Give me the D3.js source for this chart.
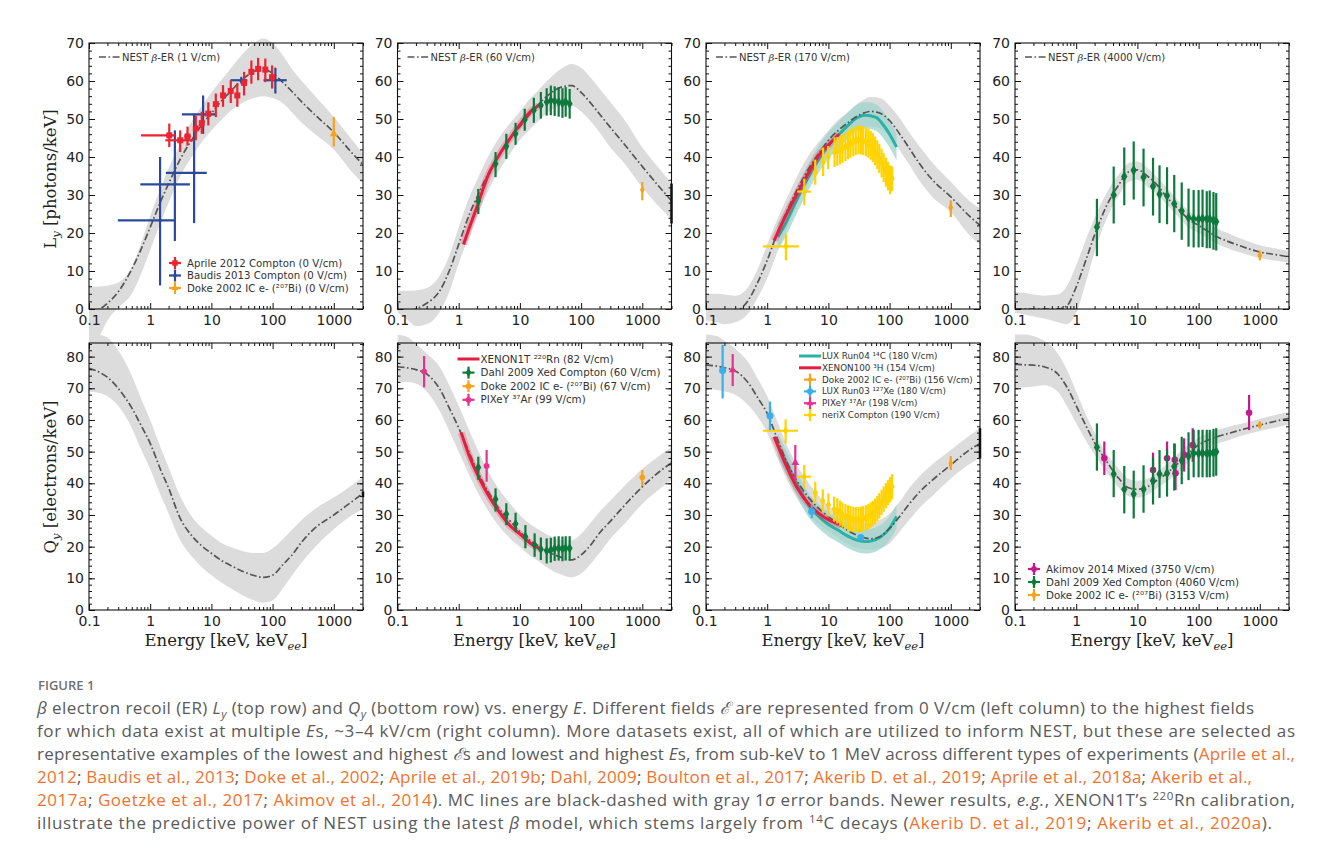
<!DOCTYPE html>
<html>
<head>
<meta charset="utf-8">
<script src="https://cdn.jsdelivr.net/npm/d3@7"></script>
<style>
  body { margin: 0; background: #fff; }
</style>
</head>
<body>
<svg id="fig" width="1328" height="858"></svg>
<script>
// NEST curves are tabulated on one energy grid (keV)
const energyGrid = [0.1, 0.15, 0.2, 0.3, 0.5, 0.7, 1, 1.5, 2, 3, 5, 7, 10, 15, 20, 30, 50, 70, 100, 150, 200, 300, 500, 1000, 2000, 3000];

// Ly [photons/keV], top row: NEST mean and 1 sigma band
const nestLy1   = [-1, 0, 1.5, 4.5, 10.5, 15.5, 21.5, 28.5, 33, 39, 45, 48.5, 51.5, 55, 57, 60, 62.5, 63.2, 62, 59.5, 57.5, 54.5, 51, 46.5, 41, 38];
const nestLy1Lo = [-11, -7, -3, 0.3, 4, 9, 15.5, 23, 28, 34.5, 40.5, 44, 47, 50, 52, 54, 55.5, 56, 55.5, 54, 52, 49, 46, 42, 36, 33];
const nestLy1Hi = [5.8, 5.9, 6.2, 7, 11, 17, 24.5, 32, 37, 43, 50, 53.5, 57, 60.5, 63, 66.5, 70, 71.2, 70, 66.5, 63.5, 60, 56, 50.5, 44.5, 41];

const nestLy60   = [-2, -1, 0, 1.5, 5, 10, 17, 25, 29.5, 35.5, 41.5, 45, 48, 51.5, 53.8, 56.5, 58.5, 58.8, 57, 53.8, 51.3, 47.8, 43.5, 37.5, 31.7, 28.5];
const nestLy60Lo = [-1, -3, -4.5, -4, -0.5, 4.5, 12, 19.5, 24.5, 31, 37.5, 41, 44.5, 47.5, 49.5, 52, 53.5, 53.5, 52, 49, 46.5, 42.5, 38.5, 32, 26.5, 23.5];
const nestLy60Hi = [4.8, 4.8, 4.9, 5.5, 9, 14, 21.5, 29.5, 34, 40, 46, 49, 52, 55.5, 57.5, 60.5, 63.5, 64.5, 63.5, 60.5, 58, 54.5, 50, 42.5, 36.5, 33];

const nestLy170   = [-3, -2.5, -2, -1, 2.5, 7, 12.8, 20.5, 25, 31, 37.5, 41, 44.4, 47.2, 48.8, 50.8, 52, 51.5, 49.6, 45.8, 42.8, 38.5, 34, 29.5, 24.5, 22];
const nestLy170Lo = [-3, -3.5, -4, -3.5, -1, 3, 8, 15.5, 20.5, 27, 34, 37.5, 41, 43.5, 45.5, 47.5, 48, 47.5, 45.5, 41.5, 38.5, 34, 29.5, 25.5, 19.5, 17];
const nestLy170Hi = [4, 4, 3.8, 3.5, 6, 10.5, 17, 24, 28.5, 34.5, 41, 44, 47, 50, 51.5, 54, 55.8, 55.5, 53.5, 50, 47, 43, 38.5, 33.5, 28.5, 26.5];

const nestLy4000   = [0, 0, 0, 0, 0, 0.8, 5.8, 13.7, 19.5, 26.5, 32.8, 36, 36.6, 34.8, 33, 29.5, 25.8, 23.5, 22, 20.2, 19, 17.8, 16.5, 15, 14.2, 13.7];
const nestLy4000Lo = [-1, -1.5, -2, -2.5, -3.5, -4, -1, 8, 15, 23, 30, 33.3, 34, 32, 30.5, 27.5, 23.7, 21.3, 20, 18.3, 17.2, 16, 14.8, 13.4, 12.6, 12.2];
const nestLy4000Hi = [4.5, 4.2, 3.8, 3.5, 3.8, 6, 11.5, 19, 24, 30, 35.5, 38.3, 38.8, 37, 35, 32, 28, 25.8, 24, 22.3, 21.2, 20, 18.5, 16.8, 15.8, 15.3];

// Qy [electrons/keV], bottom row
const nestQy0   = [76.3, 75, 73.5, 70, 63.8, 58.5, 52.6, 44, 38.5, 29.5, 23, 20.2, 17.9, 15.5, 14.2, 12.5, 10.9, 10.3, 11, 14.5, 17, 21.5, 26, 30, 34.3, 36.8];
const nestQy0Lo = [69, 68.5, 67.5, 64.5, 57.5, 51, 44.5, 36, 30.5, 22.5, 16.5, 13.5, 11, 8.5, 7, 5, 3, 2.3, 3, 7, 10.5, 15, 20, 25.5, 30, 32];
const nestQy0Hi = [88, 87, 86, 82, 74, 67, 60, 51, 45, 36.5, 29, 26, 23.5, 21, 20, 18.8, 18, 18, 19.5, 22.5, 25, 28.5, 32, 35.5, 39.5, 42];

const nestQy60   = [76.8, 76.4, 75.9, 74.5, 69.5, 63.8, 57.5, 49.5, 44, 37.5, 31, 28, 24.7, 21.8, 20.2, 18.2, 16.5, 15.8, 17.4, 21, 24.3, 28, 32.8, 38.9, 44, 46.5];
const nestQy60Lo = [72, 72, 71.5, 69, 62.5, 56.5, 50, 42.5, 37.5, 31.5, 25.5, 22.5, 20, 17, 15.5, 13, 11, 10.3, 11.5, 15, 18, 22.5, 27, 33.5, 38.5, 41];
const nestQy60Hi = [87, 86, 84, 81, 76.5, 71, 64.5, 56.5, 51, 44, 37, 33.5, 30, 27, 25.5, 23.5, 22, 22, 24, 28, 31, 34.5, 39, 44.5, 49, 51.5];

const nestQy180   = [77.4, 77, 76.5, 75.5, 71.5, 67, 62.1, 53.5, 47.5, 41.1, 35, 32, 29.5, 27, 25.3, 23.5, 22.5, 23.2, 25.8, 29.8, 33, 37, 41, 45.8, 50.5, 52.6];
const nestQy180Lo = [70, 69.5, 69, 68, 64.5, 61, 56, 47.5, 42, 35.5, 29.5, 27, 25, 22.5, 21, 19.5, 19, 19.5, 21, 25, 28, 32, 36, 41.5, 46, 48];
const nestQy180Hi = [87, 86.5, 85, 82.5, 78, 73, 67.5, 59, 53, 46, 39.5, 36, 33, 30.5, 29, 28, 27.5, 28.5, 30.5, 34.5, 38, 42, 46, 50.5, 55, 57.5];

const nestQy4000   = [77.6, 77.4, 77.3, 76.8, 74.5, 70.5, 64.5, 57.5, 52.8, 47.5, 41.5, 38.7, 38.1, 39, 40.7, 43.1, 47, 49.7, 52.1, 53.8, 54.7, 55.7, 56.9, 58.4, 59.8, 60.5];
const nestQy4000Lo = [70, 70.3, 70.6, 71, 69, 64.5, 59, 53, 49, 44, 38.5, 36, 35.5, 36.5, 38.2, 40.5, 44, 47, 49.8, 51.5, 52.5, 53.5, 55, 56.5, 57.8, 58.5];
const nestQy4000Hi = [87, 87, 86.5, 85, 81, 76, 69, 61, 56, 50, 44.5, 41.5, 40.8, 41.5, 43.2, 46, 50, 52.5, 54.5, 56, 56.8, 57.8, 58.8, 60.3, 61.8, 62.5];

// measurements: [E, value, low, high, (E low, E high)]
const aprile2012 = [
  [2.05, 45.7, 42.6, 48.8, 0.71, 2.6], [3.09, 44.4, 41.3, 47.0, 1.77, 5.2], [4.07, 45.4, 43.0, 48.0, 3.6, 4.6],
  [5.56, 47.5, 44.4, 50.9, 5.0, 6.2], [6.95, 48.9, 46.1, 51.9, 6.3, 7.6], [8.9, 51.4, 48.3, 54.4, 8.1, 9.8],
  [11.8, 53.9, 50.5, 56.7, 10.8, 12.9], [15.5, 56.2, 53.2, 58.9, 14.2, 17], [20.7, 57.4, 54.2, 60.2, 19, 22.5],
  [26.5, 56.2, 53.2, 59.3, 24.5, 28.7], [34.2, 59.5, 56.2, 62.4, 31.5, 37], [45, 62.4, 59.3, 65.4, 41.5, 48.7],
  [58, 63.2, 60.2, 66.1, 53.5, 62.8], [76, 63.0, 59.7, 65.9, 70, 82], [98, 61.0, 58.0, 64.1, 90, 106]
];
const baudis2013 = [
  [1.45, 23.3, 6.2, 40, 0.296, 2.58], [2.53, 32.8, 17.9, 47, 0.69, 4.45], [5.22, 35.8, 22.6, 51.4, 1.8, 8.4],
  [7.32, 51.2, 46.1, 56.2, 3.3, 11.7], [30.8, 60.2, 59.3, 61.1, 20.5, 38.6], [111, 60.2, 56.7, 63.5, 71, 170]
];
const dokeLy0 = [[1000, 46.1, 42.8, 50.5]];

const xenon1tLyE = [1.2, 1.5, 2, 3, 5, 7, 10, 15, 20];
const xenon1tLy  = [17, 21.5, 27, 35, 41.5, 45, 48.5, 52, 53.5];
const dahlLy60 = [
  [2.09, 28.4, 25, 31.6], [4.0, 38.2, 34.7, 41.3], [6.0, 42.8, 39.5, 46.1], [8.5, 46.1, 43.2, 49.0],
  [12, 49.8, 46.9, 52.7], [16.9, 52.3, 49.0, 55.6], [22, 53.6, 50.1, 57.1], [27.4, 54.5, 50.9, 58.1],
  [32, 54.9, 51.0, 58.8], [37, 54.7, 50.8, 58.6], [43, 54.5, 50.6, 58.4], [49.6, 54.2, 50.3, 58.1],
  [56, 54.5, 50.6, 58.4], [65, 54, 50.1, 57.9]
];
const dokeLy60 = [[1000, 31.4, 28.6, 33.4]];
const edgeLy60 = [[3000, 27.5, 22.5, 33]];

const xenon100LyE = [1.3, 2, 3, 5, 7, 10, 15];
const xenon100Ly  = [18, 24.5, 30, 36.5, 40.5, 43.2, 46];
const lux04LyE = [1.5, 2, 3, 5, 7, 10, 15, 20, 30, 40, 60, 80, 100, 130];
const lux04Ly  = [19, 22.5, 28.5, 35.5, 39.5, 43, 46, 48, 50.4, 51, 50.4, 48.3, 46, 42.6];
const lux04LyErr = 3.5;
const nerixLy = [
  [2.02, 16.5, 12.8, 19.8, 0.85, 3.3], [4.04, 30.9, 27.3, 34.3, 3.1, 5.2], [6.1, 36, 32.7, 39.3, 5.6, 6.6],
  [8.2, 38.7, 35, 42.5, 7.6, 8.8], [9.9, 40, 36.8, 42.9, 9.3, 10.5], [12.6, 41.3, 37.4, 45.2, 11.8, 13.4],
  [14, 41.5, 37.7, 45.3], [15.5, 41.8, 38, 45.6], [17, 42.2, 38.4, 46], [19, 42.7, 38.9, 46.5],
  [21, 43.2, 39.4, 47], [23, 43.6, 39.8, 47.4], [25.5, 44, 40.2, 47.8], [28, 44.3, 40.5, 48.1],
  [31, 44.5, 40.7, 48.3], [34, 44.5, 40.7, 48.3], [37, 44.3, 40.5, 48.1], [41, 44, 40.2, 47.8],
  [45, 43.6, 39.8, 47.4], [49, 43.1, 39.3, 46.9], [53, 42.5, 38.7, 46.3], [58, 41.6, 37.8, 45.4],
  [63, 40.6, 36.8, 44.4], [68, 39.6, 35.8, 43.4], [74, 38.4, 34.6, 42.2], [80, 37.2, 33.4, 41],
  [87, 36, 32.2, 39.8], [94, 35, 31.2, 38.8], [102, 34, 30.2, 37.8], [110, 34.3, 31, 37.5]
];
const dokeLy170 = [[1000, 26.7, 24.2, 28.6]];

const dahlLy4000 = [
  [2.18, 21.6, 13.9, 29], [4.1, 30, 22.5, 37.5], [6.1, 34.9, 27.3, 42.5], [8.7, 36.5, 28.8, 44.1],
  [12.6, 34.7, 27, 42.2], [18, 32.3, 24.6, 39.8], [23, 30.2, 22.6, 37.8], [30.5, 29.8, 22.3, 37.3],
  [40, 27.7, 20.2, 35.3], [53, 25.8, 18.2, 33.3], [68.5, 24, 16.4, 31.7], [83, 23.7, 16.2, 31.3],
  [100, 23.7, 16.2, 31.3], [116, 23.8, 16.3, 31.4], [136, 23.7, 16, 31], [152, 23.7, 16, 31.2],
  [175, 23.3, 15.6, 30.8], [194, 23, 15.4, 30.5]
];
const dokeLy4000 = [[1000, 14.1, 12.8, 15.4]];

const edgeQy0 = [[3000, 36.5, 35.6, 37.4]];

const xenon1tQyE = [1.1, 1.5, 2, 3, 5, 7, 10, 15, 22];
const xenon1tQy  = [56, 48.5, 43, 36.5, 30, 26.5, 24, 21, 19.2];
const dahlQy60 = [
  [2.09, 45, 41.1, 48.4], [4.0, 35, 31.1, 38.4], [6.0, 30.3, 26.8, 33.7], [8.5, 27.2, 24.7, 30.7],
  [12.3, 23.2, 19.5, 26.8], [17.4, 20.5, 16.8, 24.2], [22, 19.2, 15.8, 22.9], [27.4, 18.7, 14.7, 22.6],
  [32, 18.9, 15, 22.8], [37, 19.4, 15.5, 23.2], [43, 19.5, 15.6, 23.3], [49.6, 19.3, 15.4, 23.2],
  [56, 19.5, 15.6, 23.3], [65, 19.5, 15.6, 23.3]
];
const pixeyQy99 = [[0.272, 75.3, 70.3, 80.2], [2.86, 45.5, 40.5, 50.5]];
const dokeQy67 = [[1000, 41.9, 39.2, 44.2]];

const xenon100QyE = [1.3, 2, 3, 5, 7, 10, 16];
const xenon100Qy  = [54.7, 46, 39, 33, 30.5, 28.5, 26.8];
const lux04QyE = [1.5, 2, 3, 5, 7, 10, 15, 20, 30, 40, 50, 70, 100, 130];
const lux04Qy  = [52, 47, 40, 32.5, 29.5, 27, 25, 23.5, 22, 21.6, 21.8, 23, 25.8, 29.5];
const lux04QyErr = 3.8;
const lux03Qy = [[0.187, 75.6, 66.8, 83.7], [1.11, 61.3, 56.8, 65.8], [5.34, 31.1, 29, 33.2], [33.8, 22.9, 22.2, 23.6]];
const pixeyQy198 = [[0.273, 75.8, 70.7, 80.8], [2.88, 46.5, 41.1, 52.1]];
const nerixQy = [
  [2.0, 56.6, 52.6, 60.2, 0.85, 3.2], [4.03, 42.1, 38.4, 45.8, 3.1, 5.2], [6.1, 37, 33.7, 40.5, 5.6, 6.6],
  [8.1, 34.5, 30.9, 38.1, 7.5, 8.7], [10, 33.2, 29.5, 36.8, 9.4, 10.6], [12.4, 31.8, 27.9, 35.8, 11.7, 13.2],
  [14, 31.3, 27.3, 35.3], [15.5, 30.6, 26.6, 34.6], [17, 30, 26, 34], [19, 29.5, 25.5, 33.5],
  [21, 29.1, 25.1, 33.1], [23, 28.8, 24.8, 32.8], [25.5, 28.6, 24.6, 32.6], [28, 28.5, 24.5, 32.5],
  [31, 28.5, 24.5, 32.5], [34, 28.6, 24.6, 32.6], [37, 28.8, 24.8, 32.8], [41, 29.1, 25.1, 33.1],
  [45, 29.5, 25.5, 33.5], [49, 30, 26, 34], [53, 30.5, 26.5, 34.5], [58, 31.2, 27.2, 35.2],
  [63, 32, 28, 36], [68, 32.9, 28.9, 36.9], [74, 34, 30, 38], [80, 35, 31, 39],
  [87, 36.1, 32.1, 40.1], [94, 37.1, 33.1, 41.1], [102, 38, 34, 42], [110, 38.9, 34.9, 42.9]
];
const dokeQy156 = [[1000, 46.3, 44.2, 48.6]];
const edgeQy180 = [[3000, 52.6, 47.9, 57.4]];

const akimov2014 = [
  [2.88, 47.9, 42.6, 53.2], [18, 44.2, 38.9, 49.7], [30.5, 47.9, 42.1, 53.2], [40.8, 47.4, 42, 52.5],
  [42, 43.2, 37.9, 47.4], [58, 49, 43.7, 54.2], [80, 52.1, 46.8, 57.4], [668, 62.3, 56.8, 67.9]
];
const dahlQy4060 = [
  [2.18, 51.4, 44, 58.9], [4.1, 42.9, 35.6, 50.5], [6.1, 38.1, 30.5, 45.5], [8.7, 36.6, 28.9, 44],
  [12.6, 38.1, 30.7, 45.7], [18, 40.8, 33.3, 48.2], [23, 42.9, 35.4, 50.5], [30.5, 43.2, 35.8, 50.7],
  [40, 45.3, 37.7, 52.6], [53, 47.2, 39.7, 54.7], [68.5, 48.6, 41, 56.1], [83, 49.5, 41.9, 56.9],
  [100, 49.5, 41.9, 56.9], [116, 49.5, 41.9, 56.9], [136, 49.5, 41.9, 56.9], [152, 49.5, 41.9, 56.9],
  [175, 49.7, 42.1, 57.2], [194, 50, 42.4, 57.4]
];
const dokeQy3153 = [[1000, 58.4, 57.4, 59.5]];

const fieldLabels = ["1 V/cm", "60 V/cm", "170 V/cm", "4000 V/cm"];
const xTickValues = [0.1, 1, 10, 100, 1000];

// caption: plain strings, or [text, style] with i = italic, r = reference, sub/sup
const captionLines = [
  [["β", "i"], " electron recoil (ER) ", ["L", "i"], ["y", "isub"], " (top row) and ", ["Q", "i"], ["y", "isub"], " (bottom row) vs. energy ", ["E", "i"], ". Different fields ", ["ℰ", "i"], " are represented from 0 V/cm (left column) to the highest fields"],
  ["for which data exist at multiple ", ["E", "i"], "s, ~3–4 kV/cm (right column). More datasets exist, all of which are utilized to inform NEST, but these are selected as"],
  ["representative examples of the lowest and highest ", ["ℰ", "i"], "s and lowest and highest ", ["E", "i"], "s, from sub-keV to 1 MeV across different types of experiments (", ["Aprile et al.,", "r"]],
  [["2012", "r"], "; ", ["Baudis et al., 2013", "r"], "; ", ["Doke et al., 2002", "r"], "; ", ["Aprile et al., 2019b", "r"], "; ", ["Dahl, 2009", "r"], "; ", ["Boulton et al., 2017", "r"], "; ", ["Akerib D. et al., 2019", "r"], "; ", ["Aprile et al., 2018a", "r"], "; ", ["Akerib et al.,", "r"]],
  [["2017a", "r"], "; ", ["Goetzke et al., 2017", "r"], "; ", ["Akimov et al., 2014", "r"], "). MC lines are black-dashed with gray 1", ["σ", "i"], " error bands. Newer results, ", ["e.g.", "i"], ", XENON1T’s ", ["220", "sup"], "Rn calibration,"],
  ["illustrate the predictive power of NEST using the latest ", ["β", "i"], " model, which stems largely from ", ["14", "sup"], "C decays (", ["Akerib D. et al., 2019", "r"], "; ", ["Akerib et al., 2020a", "r"], ")."]
];
// right end of each caption line in the figure
const captionLineEnds = [1254, 1295, 1295, 1252, 1295, 1272];

// ---- layout ----
const sans = "DejaVu Sans, sans-serif";
const serif = "DejaVu Serif, serif";
const W = 274;
const colX = [89, 397.5, 706, 1015];
const rowY = [43, 343];
const rowH = [266, 267];

const svg = d3.select("#fig");
const defs = svg.append("defs");
const bandRoot = svg.append("g");
const plotRoot = svg.append("g");
const axisRoot = svg.append("g");

function makePanel(row, col) {
  const x0 = colX[col], y0 = rowY[row], h = rowH[row];
  const x = d3.scaleLog().domain([0.1, 3000]).range([0, W]);
  const y = d3.scaleLinear().domain(row ? [0, 84.3] : [0, 70]).range([h, 0]);
  const id = `clip${row}${col}`;
  defs.append("clipPath").attr("id", id).append("rect").attr("width", W).attr("height", h);
  defs.append("clipPath").attr("id", id + "w").append("rect").attr("y", -50).attr("width", W).attr("height", h + 100);
  const tr = `translate(${x0},${y0})`;
  const band = bandRoot.append("g").attr("transform", tr).append("g").attr("clip-path", `url(#${id}w)`);
  const g = plotRoot.append("g").attr("transform", tr);
  const clipped = g.append("g").attr("clip-path", `url(#${id})`);
  const free = g.append("g");
  return { row, col, x0, y0, h, x, y, band, clipped, free, yMax: row ? 84.3 : 70 };
}

function drawBand(p, lo, hi) {
  const area = d3.area()
    .x((d, i) => p.x(energyGrid[i]))
    .y0(d => p.y(d[0]))
    .y1(d => p.y(d[1]))
    .curve(d3.curveMonotoneX);
  p.band.append("path").datum(lo.map((v, i) => [v, hi[i]]))
    .attr("d", area).attr("fill", "#dcdcdc");
}

function drawNest(p, mid) {
  const line = d3.line()
    .x((d, i) => p.x(energyGrid[i]))
    .y(d => p.y(d))
    .curve(d3.curveMonotoneX);
  p.clipped.append("path").datum(mid)
    .attr("d", line).attr("fill", "none")
    .attr("stroke", "#555").attr("stroke-width", 1.7)
    .attr("stroke-dasharray", "7,2.5,1.6,2.5");
}

function drawCurve(p, es, vs, color, spread, bandColor) {
  const pts = es.map((e, i) => [e, vs[i]]);
  if (spread) {
    const area = d3.area().x(d => p.x(d[0])).y0(d => p.y(d[1] - spread)).y1(d => p.y(d[1] + spread)).curve(d3.curveMonotoneX);
    p.clipped.append("path").datum(pts).attr("d", area).attr("fill", bandColor).attr("opacity", 0.75);
  }
  const line = d3.line().x(d => p.x(d[0])).y(d => p.y(d[1])).curve(d3.curveMonotoneX);
  if (!spread) {
    p.clipped.append("path").datum(pts).attr("d", line).attr("fill", "none")
      .attr("stroke", color).attr("stroke-width", 7).attr("opacity", 0.25);
  }
  p.clipped.append("path").datum(pts).attr("d", line).attr("fill", "none")
    .attr("stroke", color).attr("stroke-width", 3);
}

function errorBars(p, pts, color, shape, size, width) {
  const g = p.free.append("g").attr("stroke", color).attr("stroke-width", width || 2.2);
  g.selectAll("line.v").data(pts).join("line").attr("class", "v")
    .attr("x1", d => p.x(d[0])).attr("x2", d => p.x(d[0]))
    .attr("y1", d => p.y(d[2])).attr("y2", d => p.y(d[3]));
  g.selectAll("line.h").data(pts.filter(d => d.length > 4)).join("line").attr("class", "h")
    .attr("x1", d => p.x(d[4])).attr("x2", d => p.x(d[5]))
    .attr("y1", d => p.y(d[1])).attr("y2", d => p.y(d[1]));
  if (shape) {
    g.selectAll("path").data(pts).join("path")
      .attr("transform", d => `translate(${p.x(d[0])},${p.y(d[1])})`)
      .attr("d", d3.symbol().type(shape).size(size))
      .attr("fill", color).attr("stroke", "none");
  }
}

function legend(p, x, y, dy, fs, entries) {
  const g = p.free.append("g").attr("transform", `translate(${x},${y})`);
  entries.forEach((e, i) => {
    const r = g.append("g").attr("transform", `translate(0,${i * dy})`);
    if (e.kind === "line") {
      r.append("line").attr("x1", -11).attr("x2", 11).attr("stroke", e.color).attr("stroke-width", 3);
    } else {
      r.append("line").attr("x1", -6).attr("x2", 6).attr("stroke", e.color).attr("stroke-width", 2.2);
      r.append("line").attr("y1", -6).attr("y2", 6).attr("stroke", e.color).attr("stroke-width", 2.2);
      r.append("path").attr("d", d3.symbol().type(e.shape).size(e.size || 26)).attr("fill", e.color);
    }
    r.append("text").attr("x", 12).attr("dy", "0.35em")
      .attr("font-family", sans).attr("font-size", fs).attr("fill", "#333").text(e.label);
  });
}

function nestLegend(p, label) {
  const g = p.free.append("g").attr("transform", "translate(10,14)");
  g.append("line").attr("x1", 0).attr("x2", 22).attr("stroke", "#555").attr("stroke-width", 1.7)
    .attr("stroke-dasharray", "7,2.5,1.6,2.5");
  const t = g.append("text").attr("x", 23).attr("dy", "0.35em")
    .attr("font-family", sans).attr("font-size", 10).attr("fill", "#333");
  t.append("tspan").text("NEST ");
  t.append("tspan").attr("font-style", "italic").attr("font-family", serif).text("β");
  t.append("tspan").text(`-ER (${label})`);
}

function drawAxes(p) {
  const a = axisRoot.append("g").attr("transform", `translate(${p.x0},${p.y0})`);
  const minor = p.x.ticks().filter(v => !xTickValues.some(m => Math.abs(m - v) < 1e-9));
  const yMajor = d3.range(0, p.yMax + 0.01, 10);
  const yMinor = d3.range(0, p.yMax, 2);
  a.append("g").attr("transform", `translate(0,${p.h})`)
    .call(d3.axisBottom(p.x).tickValues(xTickValues).tickFormat(d3.format("~g")).tickSize(-6).tickPadding(6));
  a.append("g").attr("transform", `translate(0,${p.h})`)
    .call(d3.axisBottom(p.x).tickValues(minor).tickFormat("").tickSize(-3));
  a.append("g").call(d3.axisTop(p.x).tickValues(xTickValues).tickFormat("").tickSize(-6));
  a.append("g").call(d3.axisTop(p.x).tickValues(minor).tickFormat("").tickSize(-3));
  a.append("g").call(d3.axisLeft(p.y).tickValues(yMajor).tickSize(-6).tickPadding(5));
  a.append("g").call(d3.axisLeft(p.y).tickValues(yMinor).tickFormat("").tickSize(-3));
  a.append("g").attr("transform", `translate(${W},0)`)
    .call(d3.axisRight(p.y).tickValues(yMajor).tickFormat("").tickSize(-6));
  a.append("g").attr("transform", `translate(${W},0)`)
    .call(d3.axisRight(p.y).tickValues(yMinor).tickFormat("").tickSize(-3));
  a.selectAll(".domain").remove();
  a.selectAll(".tick line").attr("stroke", "#111");
  a.selectAll(".tick text").attr("font-family", sans).attr("font-size", 14).attr("fill", "#222");
  a.append("rect").attr("width", W).attr("height", p.h)
    .attr("fill", "none").attr("stroke", "#111").attr("stroke-width", 1.1);

  // x axis title, bottom row only
  if (p.row === 1) {
    const t = a.append("text").attr("x", W / 2).attr("y", p.h + 36)
      .attr("text-anchor", "middle").attr("font-family", serif).attr("font-size", 16.5).attr("fill", "#222");
    t.append("tspan").text("Energy [keV, keV");
    t.append("tspan").attr("font-style", "italic").attr("font-size", 11.5).attr("dy", 4).text("ee");
    t.append("tspan").attr("dy", -4).text("]");
  }
}

const pLy = [0, 1, 2, 3].map(c => makePanel(0, c));
const pQy = [0, 1, 2, 3].map(c => makePanel(1, c));

const red = "#ea2430", blue = "#2c4a9c", orange = "#f6a21c", green = "#0c7a3d",
      crimson = "#e21f3f", teal = "#2bb2a6", tealBand = "#9fd4cd", pink = "#e6328d",
      skyblue = "#3aaee6", yellow = "#ffd200", magenta = "#c41a8b";

// --- Ly 1 V/cm
drawBand(pLy[0], nestLy1Lo, nestLy1Hi);
drawNest(pLy[0], nestLy1);
errorBars(pLy[0], baudis2013, blue, d3.symbolCircle, 10);
errorBars(pLy[0], aprile2012, red, d3.symbolSquare, 36);
errorBars(pLy[0], dokeLy0, orange, d3.symbolTriangle, 28);
legend(pLy[0], 86, 220, 12.5, 10.2, [
  { color: red, shape: d3.symbolSquare, size: 30, label: "Aprile 2012 Compton (0 V/cm)" },
  { color: blue, shape: d3.symbolCircle, size: 10, label: "Baudis 2013 Compton (0 V/cm)" },
  { color: orange, shape: d3.symbolTriangle, size: 20, label: "Doke 2002 IC e- (²⁰⁷Bi) (0 V/cm)" }
]);

// --- Ly 60 V/cm
drawBand(pLy[1], nestLy60Lo, nestLy60Hi);
drawNest(pLy[1], nestLy60);
drawCurve(pLy[1], xenon1tLyE, xenon1tLy, crimson);
errorBars(pLy[1], dahlLy60, green, d3.symbolDiamond, 30);
errorBars(pLy[1], dokeLy60, orange, d3.symbolDiamond, 20);
errorBars(pLy[1], edgeLy60, "#111", null, 0, 2.5);

// --- Ly 170 V/cm
drawBand(pLy[2], nestLy170Lo, nestLy170Hi);
drawCurve(pLy[2], lux04LyE, lux04Ly, teal, lux04LyErr, tealBand);
drawNest(pLy[2], nestLy170);
drawCurve(pLy[2], xenon100LyE, xenon100Ly, crimson);
errorBars(pLy[2], nerixLy, yellow, d3.symbolDiamond, 24);
errorBars(pLy[2], dokeLy170, orange, d3.symbolDiamond, 20);

// --- Ly 4000 V/cm
drawBand(pLy[3], nestLy4000Lo, nestLy4000Hi);
drawNest(pLy[3], nestLy4000);
errorBars(pLy[3], dahlLy4000, green, d3.symbolDiamond, 34);
errorBars(pLy[3], dokeLy4000, orange, d3.symbolDiamond, 20);

pLy.forEach((p, i) => nestLegend(p, fieldLabels[i]));

// --- Qy 0 V/cm
drawBand(pQy[0], nestQy0Lo, nestQy0Hi);
drawNest(pQy[0], nestQy0);
errorBars(pQy[0], edgeQy0, "#111", null, 0, 2.5);

// --- Qy 60 V/cm
drawBand(pQy[1], nestQy60Lo, nestQy60Hi);
drawNest(pQy[1], nestQy60);
drawCurve(pQy[1], xenon1tQyE, xenon1tQy, crimson);
errorBars(pQy[1], dahlQy60, green, d3.symbolDiamond, 30);
errorBars(pQy[1], pixeyQy99, pink, d3.symbolCircle, 26);
errorBars(pQy[1], dokeQy67, orange, d3.symbolCircle, 26);
legend(pQy[1], 71, 16, 13.6, 10.3, [
  { kind: "line", color: crimson, label: "XENON1T ²²⁰Rn (82 V/cm)" },
  { color: green, shape: d3.symbolDiamond, label: "Dahl 2009 Xed Compton (60 V/cm)" },
  { color: orange, shape: d3.symbolCircle, label: "Doke 2002 IC e- (²⁰⁷Bi) (67 V/cm)" },
  { color: pink, shape: d3.symbolCircle, label: "PIXeY ³⁷Ar (99 V/cm)" }
]);

// --- Qy 180 V/cm
drawBand(pQy[2], nestQy180Lo, nestQy180Hi);
drawCurve(pQy[2], lux04QyE, lux04Qy, teal, lux04QyErr, tealBand);
drawNest(pQy[2], nestQy180);
drawCurve(pQy[2], xenon100QyE, xenon100Qy, crimson);
errorBars(pQy[2], nerixQy, yellow, d3.symbolDiamond, 24);
errorBars(pQy[2], lux03Qy, skyblue, d3.symbolCircle, 40);
errorBars(pQy[2], pixeyQy198, pink, d3.symbolTriangle, 26);
errorBars(pQy[2], dokeQy156, orange, d3.symbolDiamond, 20);
errorBars(pQy[2], edgeQy180, "#111", null, 0, 2.5);
legend(pQy[2], 104, 13, 11.8, 8.8, [
  { kind: "line", color: teal, label: "LUX Run04 ¹⁴C (180 V/cm)" },
  { kind: "line", color: crimson, label: "XENON100 ³H (154 V/cm)" },
  { color: orange, shape: d3.symbolDiamond, size: 18, label: "Doke 2002 IC e- (²⁰⁷Bi) (156 V/cm)" },
  { color: skyblue, shape: d3.symbolCircle, size: 30, label: "LUX Run03 ¹²⁷Xe (180 V/cm)" },
  { color: pink, shape: d3.symbolTriangle, size: 20, label: "PIXeY ³⁷Ar (198 V/cm)" },
  { color: yellow, shape: d3.symbolDiamond, size: 20, label: "neriX Compton (190 V/cm)" }
]);

// --- Qy 4000 V/cm
drawBand(pQy[3], nestQy4000Lo, nestQy4000Hi);
drawNest(pQy[3], nestQy4000);
errorBars(pQy[3], akimov2014, magenta, d3.symbolCircle, 34);
errorBars(pQy[3], dahlQy4060, green, d3.symbolDiamond, 34);
errorBars(pQy[3], dokeQy3153, orange, d3.symbolDiamond, 20);
legend(pQy[3], 19, 226, 13, 10.3, [
  { color: magenta, shape: d3.symbolCircle, label: "Akimov 2014 Mixed (3750 V/cm)" },
  { color: green, shape: d3.symbolDiamond, label: "Dahl 2009 Xed Compton (4060 V/cm)" },
  { color: orange, shape: d3.symbolDiamond, label: "Doke 2002 IC e- (²⁰⁷Bi) (3153 V/cm)" }
]);

pLy.concat(pQy).forEach(drawAxes);

// y axis titles
[["L", " [photons/keV]", 179], ["Q", " [electrons/keV]", 477]].forEach(([sym, rest, cy]) => {
  const t = svg.append("text").attr("transform", `translate(50,${cy}) rotate(-90)`)
    .attr("text-anchor", "middle").attr("dy", "0.35em")
    .attr("font-family", serif).attr("font-size", 16.5).attr("fill", "#222");
  t.append("tspan").text(sym);
  t.append("tspan").attr("font-style", "italic").attr("font-size", 11.5).attr("dy", 4).text("y");
  t.append("tspan").attr("dy", -4).text(rest);
});

// caption
const capX = 37, capSize = 17;
const cap = svg.append("g").attr("font-family", "Open Sans, sans-serif").attr("fill", "#5a5a5a");
cap.append("text").attr("x", capX + 1).attr("y", 690).attr("font-size", 13).attr("font-weight", 600)
  .attr("fill", "#707070").text("FIGURE 1");
captionLines.forEach((segs, i) => {
  const t = cap.append("text").attr("x", capX).attr("y", 714 + i * 23).attr("font-size", capSize)
    .attr("textLength", captionLineEnds[i] - capX).attr("lengthAdjust", "spacing");
  let shift = 0;
  segs.forEach(s => {
    const [txt, st] = typeof s === "string" ? [s, ""] : s;
    const ts = t.append("tspan").text(txt);
    const want = st.includes("sub") ? 4 : st.includes("sup") ? -6 : 0;
    if (want !== shift) { ts.attr("dy", want - shift); shift = want; }
    if (want) ts.attr("font-size", capSize * 0.68);
    if (st.includes("i")) ts.attr("font-style", "italic");
    if (st === "r") ts.attr("fill", "#ef7330");
  });
});
</script>
</body>
</html>
